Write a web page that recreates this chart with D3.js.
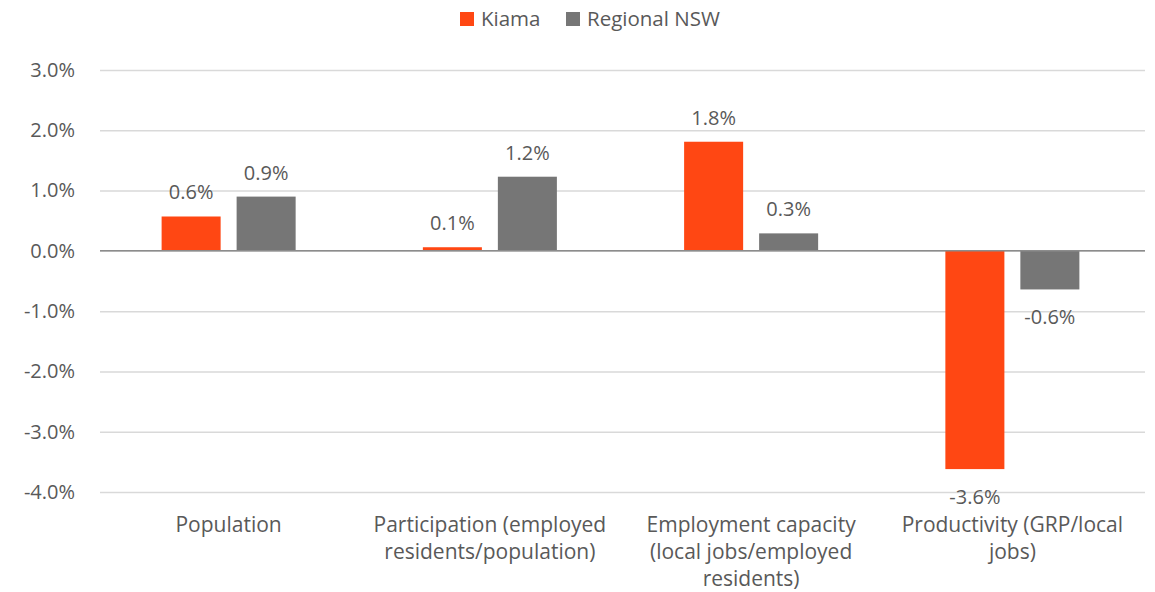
<!DOCTYPE html>
<html>
<head>
<meta charset="utf-8">
<script src="https://cdn.jsdelivr.net/npm/d3@7"></script>
<style>
  body { margin: 0; background: #fff; }
  text { font-family: "Open Sans", sans-serif; fill: #595959; }
</style>
</head>
<body>
<svg id="chart" width="1155" height="592"></svg>
<script>
width = 1155
height = 592

// categories, split in lines the way the axis shows them
var categories = ["Population", "Participation", "Employment capacity", "Productivity"]
var categoryLines = [
    ["Population"],
    ["Participation (employed", "residents/population)"],
    ["Employment capacity", "(local jobs/employed", "residents)"],
    ["Productivity (GRP/local", "jobs)"]
]
var seriesNames = ["Kiama", "Regional NSW"]
var kiama = [0.57, 0.06, 1.81, -3.62]
var regional = [0.90, 1.23, 0.29, -0.64]
var labels = [["0.6%", "0.1%", "1.8%", "-3.6%"], ["0.9%", "1.2%", "0.3%", "-0.6%"]]
var yTicks = [3, 2, 1, 0, -1, -2, -3, -4]

var colors = ["#FF4713", "#767676"]
var seriesValues = [kiama, regional]

var margin = {left: 100, right: 10, top: 70, bottom: 100}

var svg = d3.select("#chart");

var x = d3.scaleBand()
    .domain(categories)
    .range([margin.left - 2, width - margin.right - 2])
    .paddingInner(0.487)
    .paddingOuter(0.2435);

var xs = d3.scaleBand()
    .domain(seriesNames)
    .range([0, x.bandwidth()])
    .paddingInner(0.213)
    .paddingOuter(0);

var y = d3.scaleLinear()
    .domain([-4, 3])
    .range([492, 70]);

// gridlines and tick labels
var yAxis = d3.axisLeft(y)
    .tickValues(yTicks)
    .tickSize(-(width - margin.right - margin.left))
    .tickPadding(25)
    .tickFormat(function(d){ return d.toFixed(1) + "%" });

var gy = svg.append("g")
    .attr("transform", "translate(" + margin.left + ",0)")
    .call(yAxis);
gy.select(".domain").remove();
gy.selectAll("line")
    .attr("stroke", "#D9D9D9")
    .attr("stroke-width", 1.5);
gy.selectAll("text")
    .attr("font-size", "20px")
    .attr("fill", "#595959")
    .style("font-family", "'Open Sans', sans-serif");

// bars
seriesValues.forEach(function(vals, si){
    var g = svg.append("g");
    g.selectAll("rect")
        .data(categories)
        .enter().append("rect")
        .attr("x", function(d){ return x(d) + xs(seriesNames[si]) })
        .attr("width", xs.bandwidth())
        .attr("y", function(d, i){ return Math.min(y(vals[i]), y(0)) })
        .attr("height", function(d, i){ return Math.abs(y(vals[i]) - y(0)) })
        .style("fill", colors[si]);

    g.selectAll("text")
        .data(categories)
        .enter().append("text")
        .attr("x", function(d){ return x(d) + xs(seriesNames[si]) + xs.bandwidth()/2 })
        .attr("y", function(d, i){
            return vals[i] >= 0 ? y(vals[i]) - 17 : y(vals[i]) + 35
        })
        .attr("text-anchor", "middle")
        .attr("font-size", "20px")
        .text(function(d, i){ return labels[si][i] });
});

// zero line on top
svg.append("line")
    .attr("x1", margin.left)
    .attr("x2", width - margin.right)
    .attr("y1", y(0))
    .attr("y2", y(0))
    .attr("stroke", "#8C8C8C")
    .attr("stroke-width", 1.5);

// category labels
categories.forEach(function(c, i){
    var t = svg.append("text")
        .attr("x", x(c) + x.bandwidth()/2)
        .attr("y", 532)
        .attr("text-anchor", "middle")
        .attr("font-size", "21px");
    categoryLines[i].forEach(function(line, j){
        t.append("tspan")
            .attr("x", x(c) + x.bandwidth()/2)
            .attr("dy", j == 0 ? 0 : 27)
            .text(line);
    });
});

// legend
var legendX = [460, 566]
seriesNames.forEach(function(s, i){
    svg.append("rect")
        .attr("x", legendX[i])
        .attr("y", 12)
        .attr("width", 14)
        .attr("height", 14)
        .style("fill", colors[i]);
    svg.append("text")
        .attr("x", legendX[i] + 21)
        .attr("y", 26)
        .attr("font-size", "20.5px")
        .text(s);
});
</script>
</body>
</html>
